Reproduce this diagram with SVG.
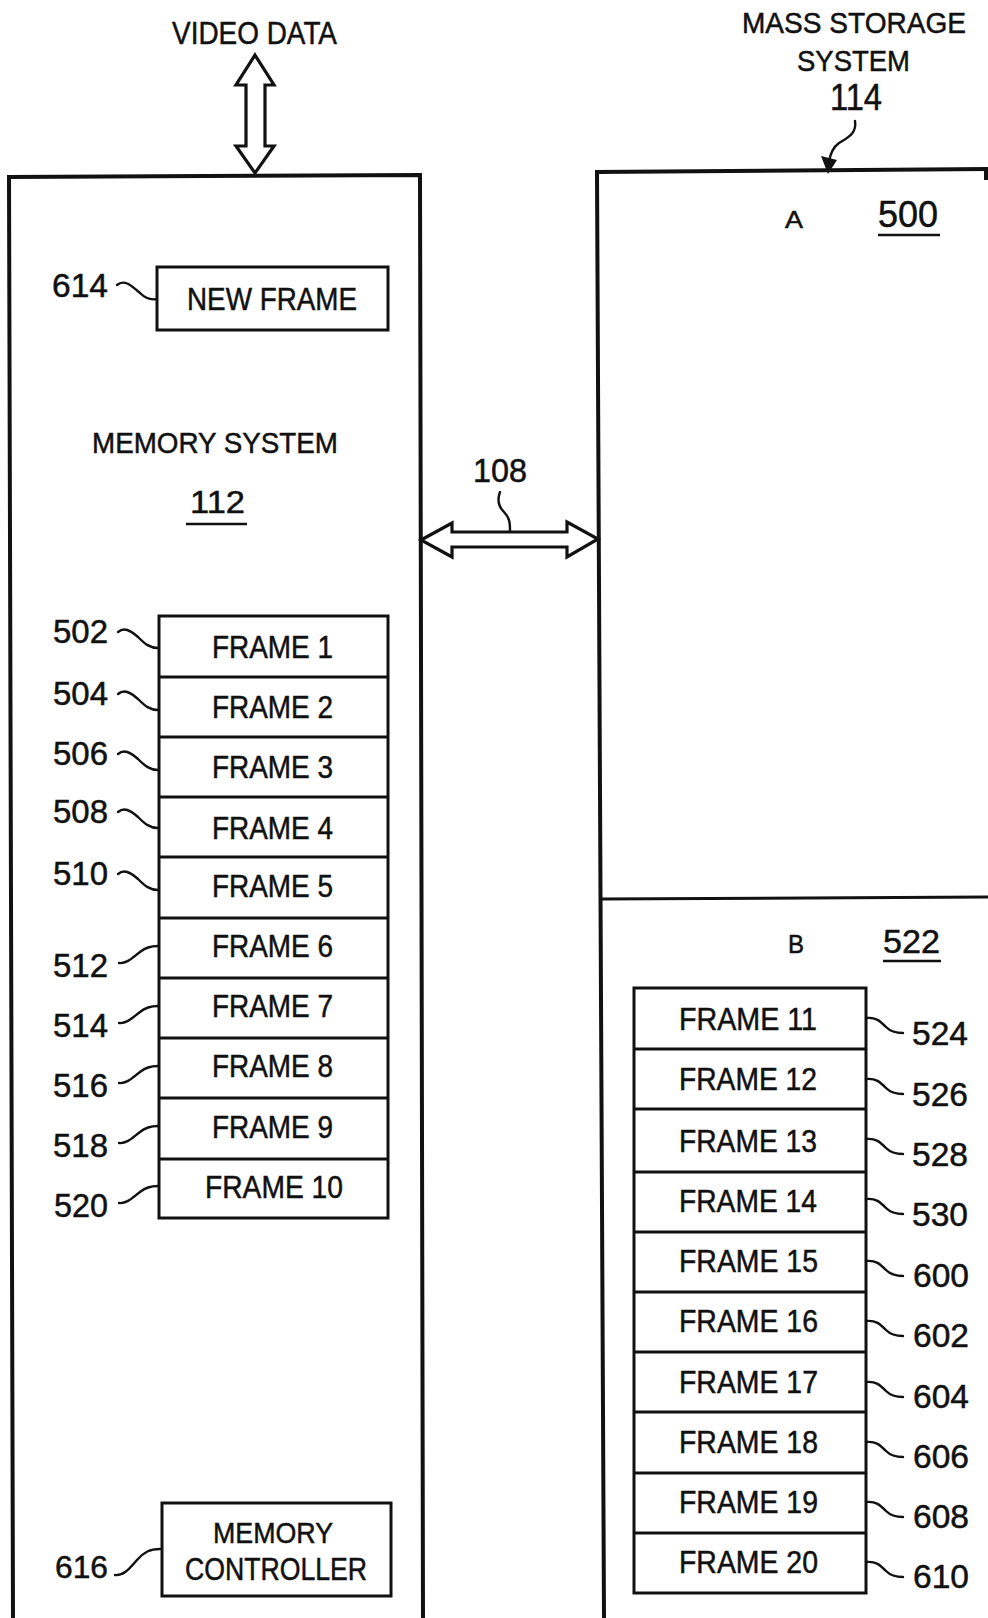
<svg xmlns="http://www.w3.org/2000/svg" width="988" height="1618" viewBox="0 0 988 1618">
<style>
  text { font-family: "Liberation Sans", Arial, sans-serif; fill: #111; stroke: #111; stroke-width: 0.5; }
  .box { fill: none; stroke: #111; stroke-width: 4; stroke-linejoin: miter; }
  .fb { fill: #fff; stroke: #111; stroke-width: 3; }
  .div { stroke: #111; stroke-width: 3; fill: none; }
  .ld { fill: none; stroke: #111; stroke-width: 2.4; stroke-linecap: round; }
  .arr { fill: #fff; stroke: #111; stroke-width: 3.2; stroke-linejoin: miter; }
  .ul { stroke: #111; stroke-width: 2.5; }
  .t31 { font-size: 31px; }
  .n33 { font-size: 33px; }
</style>
<rect x="0" y="0" width="988" height="1618" fill="#fff"/>

<g id="memory-system">
  <path class="box" d="M13,1618 L9,177 L420,175 L423,1618"/>
  <text x="92" y="453" font-size="30" textLength="246" lengthAdjust="spacingAndGlyphs">MEMORY SYSTEM</text>
  <text x="190" y="513" font-size="32" textLength="55" lengthAdjust="spacingAndGlyphs">112</text>
  <line class="ul" x1="186" y1="524" x2="247" y2="524"/>
</g>

<g id="mass-storage">
  <path class="box" d="M604,1618 L597,172 L988,169"/>
  <line class="box" x1="986" y1="170" x2="986" y2="180"/>
  <path class="div" d="M600,899 L988,897"/>
  <text x="742" y="33" font-size="30" textLength="224" lengthAdjust="spacingAndGlyphs">MASS STORAGE</text>
  <text x="797" y="71" font-size="30" textLength="113" lengthAdjust="spacingAndGlyphs">SYSTEM</text>
  <text x="830" y="110" font-size="36" textLength="52" lengthAdjust="spacingAndGlyphs">114</text>
</g>

<g id="area-a">
  <text x="785" y="228" font-size="23" textLength="18" lengthAdjust="spacingAndGlyphs">A</text>
  <text x="878" y="227" font-size="36" textLength="60" lengthAdjust="spacingAndGlyphs">500</text>
  <line class="ul" x1="878" y1="235" x2="940" y2="235"/>
</g>

<g id="area-b">
  <text x="788" y="953" font-size="25" textLength="16" lengthAdjust="spacingAndGlyphs">B</text>
  <text x="883" y="953" font-size="34" textLength="57" lengthAdjust="spacingAndGlyphs">522</text>
  <line class="ul" x1="883" y1="961" x2="941" y2="961"/>
</g>

<g id="video-data">
  <text x="172" y="44" font-size="31" textLength="165" lengthAdjust="spacingAndGlyphs">VIDEO DATA</text>
</g>

<g id="new-frame">
  <rect class="fb" x="157" y="267" width="231" height="63"/>
  <text x="187" y="310" font-size="32" textLength="170" lengthAdjust="spacingAndGlyphs">NEW FRAME</text>
  <text x="52" y="297" font-size="34" textLength="56" lengthAdjust="spacingAndGlyphs">614</text>
</g>

<g id="memory-controller">
  <rect class="fb" x="162" y="1503" width="229" height="93"/>
  <text x="213" y="1543" font-size="30" textLength="120" lengthAdjust="spacingAndGlyphs">MEMORY</text>
  <text x="185" y="1580" font-size="31" textLength="182" lengthAdjust="spacingAndGlyphs">CONTROLLER</text>
  <text x="55" y="1578" font-size="32" textLength="53" lengthAdjust="spacingAndGlyphs">616</text>
</g>

<g id="frames-1-10">
  <rect class="fb" x="159" y="616" width="229" height="602"/>
  <path class="div" d="M159,677H388 M159,737H388 M159,797H388 M159,857H388 M159,918H388 M159,978H388 M159,1038H388 M159,1098H388 M159,1159H388"/>
  <g class="t31">
    <text x="212" y="658" textLength="121" lengthAdjust="spacingAndGlyphs">FRAME 1</text>
    <text x="212" y="718" textLength="121" lengthAdjust="spacingAndGlyphs">FRAME 2</text>
    <text x="212" y="778" textLength="121" lengthAdjust="spacingAndGlyphs">FRAME 3</text>
    <text x="212" y="839" textLength="121" lengthAdjust="spacingAndGlyphs">FRAME 4</text>
    <text x="212" y="897" textLength="121" lengthAdjust="spacingAndGlyphs">FRAME 5</text>
    <text x="212" y="957" textLength="121" lengthAdjust="spacingAndGlyphs">FRAME 6</text>
    <text x="212" y="1017" textLength="121" lengthAdjust="spacingAndGlyphs">FRAME 7</text>
    <text x="212" y="1077" textLength="121" lengthAdjust="spacingAndGlyphs">FRAME 8</text>
    <text x="212" y="1138" textLength="121" lengthAdjust="spacingAndGlyphs">FRAME 9</text>
    <text x="205" y="1198" textLength="138" lengthAdjust="spacingAndGlyphs">FRAME 10</text>
  </g>
  <g class="n33">
    <text x="53" y="643" textLength="55" lengthAdjust="spacingAndGlyphs">502</text>
    <text x="53" y="705" textLength="55" lengthAdjust="spacingAndGlyphs">504</text>
    <text x="53" y="765" textLength="55" lengthAdjust="spacingAndGlyphs">506</text>
    <text x="53" y="823" textLength="55" lengthAdjust="spacingAndGlyphs">508</text>
    <text x="53" y="885" textLength="55" lengthAdjust="spacingAndGlyphs">510</text>
    <text x="53" y="977" textLength="55" lengthAdjust="spacingAndGlyphs">512</text>
    <text x="53" y="1037" textLength="55" lengthAdjust="spacingAndGlyphs">514</text>
    <text x="53" y="1097" textLength="55" lengthAdjust="spacingAndGlyphs">516</text>
    <text x="53" y="1157" textLength="55" lengthAdjust="spacingAndGlyphs">518</text>
    <text x="54" y="1217" textLength="54" lengthAdjust="spacingAndGlyphs">520</text>
  </g>
</g>

<g id="frames-11-20">
  <rect class="fb" x="634" y="988" width="232" height="605"/>
  <path class="div" d="M634,1049H866 M634,1109H866 M634,1172H866 M634,1232H866 M634,1292H866 M634,1352H866 M634,1412H866 M634,1473H866 M634,1533H866"/>
  <g class="t31">
    <text x="679" y="1030" textLength="138" lengthAdjust="spacingAndGlyphs">FRAME 11</text>
    <text x="679" y="1090" textLength="138" lengthAdjust="spacingAndGlyphs">FRAME 12</text>
    <text x="679" y="1152" textLength="138" lengthAdjust="spacingAndGlyphs">FRAME 13</text>
    <text x="679" y="1212" textLength="138" lengthAdjust="spacingAndGlyphs">FRAME 14</text>
    <text x="679" y="1272" textLength="139" lengthAdjust="spacingAndGlyphs">FRAME 15</text>
    <text x="679" y="1332" textLength="139" lengthAdjust="spacingAndGlyphs">FRAME 16</text>
    <text x="679" y="1393" textLength="139" lengthAdjust="spacingAndGlyphs">FRAME 17</text>
    <text x="679" y="1453" textLength="139" lengthAdjust="spacingAndGlyphs">FRAME 18</text>
    <text x="679" y="1513" textLength="139" lengthAdjust="spacingAndGlyphs">FRAME 19</text>
    <text x="679" y="1573" textLength="139" lengthAdjust="spacingAndGlyphs">FRAME 20</text>
  </g>
  <g style="font-size:34px">
    <text x="912" y="1045" textLength="56" lengthAdjust="spacingAndGlyphs">524</text>
    <text x="912" y="1106" textLength="56" lengthAdjust="spacingAndGlyphs">526</text>
    <text x="912" y="1166" textLength="56" lengthAdjust="spacingAndGlyphs">528</text>
    <text x="912" y="1226" textLength="56" lengthAdjust="spacingAndGlyphs">530</text>
    <text x="913" y="1287" textLength="56" lengthAdjust="spacingAndGlyphs">600</text>
    <text x="913" y="1347" textLength="56" lengthAdjust="spacingAndGlyphs">602</text>
    <text x="913" y="1408" textLength="56" lengthAdjust="spacingAndGlyphs">604</text>
    <text x="913" y="1468" textLength="56" lengthAdjust="spacingAndGlyphs">606</text>
    <text x="913" y="1528" textLength="56" lengthAdjust="spacingAndGlyphs">608</text>
    <text x="913" y="1588" textLength="56" lengthAdjust="spacingAndGlyphs">610</text>
  </g>
</g>

<g id="bus-108">
  <text x="473" y="482" font-size="33" textLength="54" lengthAdjust="spacingAndGlyphs">108</text>
</g>

<g id="connectors">
  <!-- video data double arrow -->
  <polygon class="arr" points="255,55 274,85 265,85 265,146 274,146 255,173 236,146 246,146 246,85 236,85"/>
  <!-- bus 108 double arrow -->
  <polygon class="arr" points="421,540 452,523 452,532 567,532 567,522 598,539 567,557 567,547 452,547 452,557"/>
  <path class="ld" d="M500,492 C497,500 498,506 504,512 C510,518 510,524 510,531"/>
  <!-- 114 pointer -->
  <path class="ld" d="M855,121 C857,134 847,138 839,143 C832,148 830,155 829,162"/>
  <polygon points="821,156 837,160 828,174" fill="#111"/>
  <!-- 614 / 616 leaders -->
  <path class="ld" d="M117,285 C124,279 131,285 140,293 C146,299 152,300 157,299"/>
  <path class="ld" d="M115,1575 C124,1576 130,1568 137,1560 C144,1552 150,1549 160,1549"/>
  <!-- left leaders 502-510 -->
  <path class="ld" d="M118,632 C124,627 130,630 138,637 C145,644 150,648 158,648"/>
  <path class="ld" d="M118,694 C124,689 130,692 138,699 C145,706 150,710 158,710"/>
  <path class="ld" d="M118,754 C124,749 130,752 138,759 C145,766 150,770 158,770"/>
  <path class="ld" d="M118,812 C124,807 130,810 138,817 C145,824 150,828 158,828"/>
  <path class="ld" d="M118,874 C124,869 130,872 138,879 C145,886 150,890 158,890"/>
  <!-- left leaders 512-520 -->
  <path class="ld" d="M119,963 C127,964 133,957 140,952 C146,947 152,946 158,946"/>
  <path class="ld" d="M119,1023 C127,1024 133,1017 140,1012 C146,1007 152,1006 158,1006"/>
  <path class="ld" d="M119,1083 C127,1084 133,1077 140,1072 C146,1067 152,1066 158,1066"/>
  <path class="ld" d="M119,1143 C127,1144 133,1137 140,1132 C146,1127 152,1126 158,1126"/>
  <path class="ld" d="M119,1203 C127,1204 133,1197 140,1192 C146,1187 152,1186 158,1186"/>
  <!-- right leaders 524-610 -->
  <path class="ld" d="M866,1018 C876,1017 880,1021 886,1027 C891,1032 896,1033 903,1033"/>
  <path class="ld" d="M866,1079 C876,1078 880,1082 886,1088 C891,1093 896,1094 903,1094"/>
  <path class="ld" d="M866,1139 C876,1138 880,1142 886,1148 C891,1153 896,1154 903,1154"/>
  <path class="ld" d="M866,1199 C876,1198 880,1202 886,1208 C891,1213 896,1214 903,1214"/>
  <path class="ld" d="M866,1261 C876,1260 880,1264 886,1270 C891,1275 896,1276 903,1276"/>
  <path class="ld" d="M866,1321 C876,1320 880,1324 886,1330 C891,1335 896,1336 903,1336"/>
  <path class="ld" d="M866,1382 C876,1381 880,1385 886,1391 C891,1396 896,1397 903,1397"/>
  <path class="ld" d="M866,1442 C876,1441 880,1445 886,1451 C891,1456 896,1457 903,1457"/>
  <path class="ld" d="M866,1502 C876,1501 880,1505 886,1511 C891,1516 896,1517 903,1517"/>
  <path class="ld" d="M866,1562 C876,1561 880,1565 886,1571 C891,1576 896,1577 903,1577"/>
</g>
</svg>
